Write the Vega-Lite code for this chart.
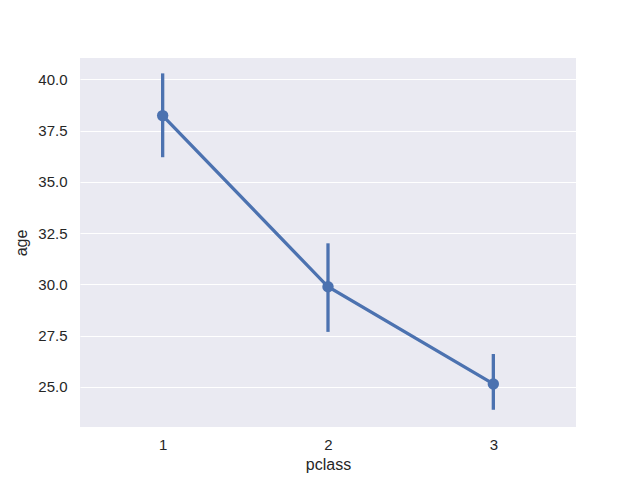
{
  "$schema": "https://vega.github.io/schema/vega-lite/v6.json",
  "width": 496,
  "height": 369,
  "autosize": {"type": "none"},
  "padding": {"left": 80, "top": 58, "right": 64, "bottom": 53},
  "background": "white",
  "config": {
    "view": {"fill": "#EAEAF2", "stroke": null},
    "font": "Liberation Sans",
    "axis": {
      "domain": false,
      "ticks": false,
      "gridColor": "white",
      "gridWidth": 1.2,
      "labelFont": "Liberation Sans",
      "labelFontSize": 15,
      "labelColor": "#262626",
      "titleFont": "Liberation Sans",
      "titleFontSize": 16,
      "titleFontWeight": "normal",
      "titleColor": "#262626"
    }
  },
  "data": {
    "values": [
      {"pclass": "1", "age": 38.23, "lo": 36.2, "hi": 40.29},
      {"pclass": "2", "age": 29.88, "lo": 27.68, "hi": 32.0},
      {"pclass": "3", "age": 25.14, "lo": 23.88, "hi": 26.6}
    ]
  },
  "encoding": {
    "x": {
      "field": "pclass",
      "type": "ordinal",
      "scale": {"type": "point", "padding": 0.5},
      "axis": {"labelAngle": 0, "grid": false, "labelPadding": 10, "titlePadding": 4, "title": "pclass"}
    }
  },
  "layer": [
    {
      "mark": {"type": "rule", "color": "#4C72B0", "strokeWidth": 3.3},
      "encoding": {
        "y": {"field": "lo", "type": "quantitative"},
        "y2": {"field": "hi"}
      }
    },
    {
      "mark": {"type": "line", "color": "#4C72B0", "strokeWidth": 3.3},
      "encoding": {
        "y": {"field": "age", "type": "quantitative",
          "scale": {"domain": [23.04, 41.04], "nice": false, "zero": false},
          "axis": {"values": [25, 27.5, 30, 32.5, 35, 37.5, 40], "format": ".1f", "labelPadding": 13, "titlePadding": 8, "title": "age", "grid": true}
        }
      }
    },
    {
      "mark": {"type": "point", "filled": true, "opacity": 1, "color": "#4C72B0", "size": 130},
      "encoding": {
        "y": {"field": "age", "type": "quantitative"}
      }
    }
  ]
}
